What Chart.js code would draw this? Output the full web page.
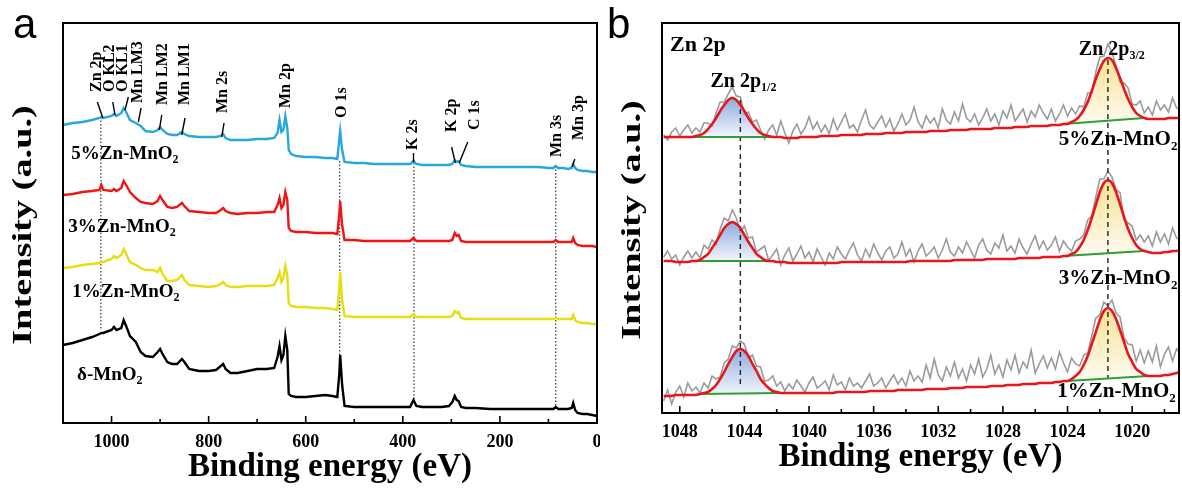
<!DOCTYPE html>
<html>
<head>
<meta charset="utf-8">
<script src="https://cdn.jsdelivr.net/npm/chart.js@4.4.1/dist/chart.umd.min.js"></script>
<style>
  html, body { margin: 0; padding: 0; background: #fff; }
  #wrap { position: relative; width: 1182px; height: 492px; overflow: hidden; }
  canvas { position: absolute; top: 0; }
  #survey { left: 0; }
  #zn { left: 600px; }
</style>
</head>
<body>
<div id="wrap">
  <canvas id="survey" width="600" height="492"></canvas>
  <canvas id="zn" width="582" height="492"></canvas>
</div>
<script>
// ---- panel a: survey spectra (binding energy in eV, stacked intensity in a.u.) ----
const energyA = [1100,1080,1060,1040,1025,1021,1017,1000,995,990,980,975,970,962,950,940,930,915,905,900,
  895,885,875,865,855,850,840,820,800,785,775,770,765,755,740,720,700,680,665,658,654,650,646,642,638,
  635,630,620,600,580,560,545,535,531,529,525,520,500,480,460,440,420,400,385,378,372,360,340,320,305,
  298,293,289,285,280,270,250,220,200,180,160,140,120,100,90,85,80,70,60,52,49,45,40,30,20,10,0];

const survey5 = [298,300,301,303,305,306,305,307,309,307,310,315,311,303,300,297,292,291,293,296,
  293,289,288,288,291,289,287,286,286,286,287,289,285,283,283,283,284,284,285,290,303,291,293,307,295,
  273,269,267,266,266,265,265,264,283,292,273,261,260,260,259,259,259,259,259,262,259,258,258,258,258,
  259,263,261,262,258,257,256,256,256,256,256,256,256,255,255,257,255,255,254,255,259,255,253,252,252,251,251];
const survey3 = [228,229,231,232,233,238,233,232,234,232,235,242,238,231,225,221,220,219,222,227,
  223,216,215,216,220,217,212,211,210,210,213,215,212,210,209,210,210,211,211,218,225,215,218,231,223,
  195,192,191,191,190,190,190,189,208,222,198,183,183,182,182,182,182,182,182,185,182,182,182,182,182,
  183,190,187,188,182,181,181,181,181,181,181,181,181,181,181,183,181,181,181,181,185,180,178,177,177,177,176];
const survey1 = [155,156,158,159,160,161,161,164,167,165,168,174,169,161,158,155,153,153,151,155,
  149,142,142,143,148,143,138,137,136,137,139,141,138,136,136,137,137,137,138,145,151,141,145,157,148,
  120,117,116,116,115,115,114,113,133,151,123,107,106,106,106,106,106,106,106,109,106,106,106,106,106,
  107,112,110,111,105,104,104,104,104,104,104,104,104,104,104,105,104,104,104,104,108,103,101,100,100,99,99];
const surveyPristine = [78,80,83,86,89,90,90,93,96,93,95,103,97,87,81,71,67,66,71,74,
  69,61,59,59,64,61,54,52,52,53,57,59,54,50,50,52,54,54,55,66,77,63,68,87,73,
  29,27,26,26,27,28,27,26,48,68,38,17,16,16,16,16,16,16,16,23,17,16,16,16,17,
  21,27,23,22,16,15,15,14,14,14,14,14,14,14,14,16,14,14,14,15,20,13,10,9,9,8,7];

const dropEnergyA = [1022, 530, 377, 85];
const dropTopA = [306, 262, 260, 257];
const dropBottomA = [93, 68, 23, 15];

const tickValuesA = [1000, 800, 600, 400, 200, 0];
const minorTicksA = [1100, 900, 700, 500, 300, 100];

// ---- panel b: Zn 2p high resolution ----
const energyB = [1049,1048.75,1048.5,1048.25,1048,1047.75,1047.5,1047.25,1047,1046.75,1046.5,1046.25,
  1046,1045.75,1045.5,1045.25,1045,1044.75,1044.5,1044.25,1044,1043.75,1043.5,1043.25,
  1043,1042.75,1042.5,1042.25,1042,1041.75,1041.5,1041.25,1041,1040.75,1040.5,1040.25,
  1040,1039.75,1039.5,1039.25,1039,1038.75,1038.5,1038.25,1038,1037.75,1037.5,1037.25,
  1037,1036.75,1036.5,1036.25,1036,1035.75,1035.5,1035.25,1035,1034.75,1034.5,1034.25,
  1034,1033.75,1033.5,1033.25,1033,1032.75,1032.5,1032.25,1032,1031.75,1031.5,1031.25,
  1031,1030.75,1030.5,1030.25,1030,1029.75,1029.5,1029.25,1029,1028.75,1028.5,1028.25,
  1028,1027.75,1027.5,1027.25,1027,1026.75,1026.5,1026.25,1026,1025.75,1025.5,1025.25,
  1025,1024.75,1024.5,1024.25,1024,1023.75,1023.5,1023.25,1023,1022.75,1022.5,1022.25,
  1022,1021.75,1021.5,1021.25,1021,1020.75,1020.5,1020.25,1020,1019.75,1019.5,1019.25,
  1019,1018.75,1018.5,1018.25,1018,1017.75,1017.5,1017.25,1017];

const raw5 = [278,273,281,285,277,283,288,280,285,281,290,290,287,300,311,311,319,326,317,316,
  299,301,291,293,283,274,283,288,278,292,280,270,282,289,279,285,296,284,291,281,
  288,279,294,283,291,299,285,288,281,293,303,288,284,291,297,286,294,282,289,299,
  288,293,306,291,285,297,290,295,285,304,293,289,301,292,309,295,291,299,288,295,
  304,292,299,288,302,295,308,292,298,304,291,302,296,308,300,294,304,292,299,308,
  297,305,299,307,306,320,320,341,356,357,369,361,347,331,330,325,309,308,312,300,
  306,298,312,303,308,301,315,305,303];
const fit5 = [276,276,276,276,276,276,276,276,277,278,280,284,289,295,302,308,313,315,313,308,
  302,295,289,284,280,278,277,276,276,276,275,275,275,275,276,276,276,276,276,277,
  277,277,277,277,278,278,278,278,278,278,279,279,279,279,279,280,280,280,280,280,
  281,281,281,281,281,281,282,282,282,282,282,283,283,283,283,283,284,284,284,284,
  284,284,285,285,285,285,285,286,286,286,286,287,287,287,287,287,288,288,288,289,
  289,291,293,297,303,311,322,334,344,352,355,353,345,335,324,314,306,300,297,295,
  294,294,294,294,294,295,295,295,295];

const raw3 = [156,162,154,158,148,156,162,155,161,155,168,164,173,169,184,195,192,203,195,181,
  187,175,176,161,164,167,153,158,164,148,158,165,152,159,167,155,161,151,164,156,
  148,160,154,166,159,154,163,170,158,152,164,156,169,160,153,162,166,155,159,171,
  157,164,151,162,169,157,161,166,155,163,174,161,157,166,160,171,163,155,168,174,
  163,159,170,165,178,162,167,160,174,165,159,169,177,164,172,163,168,176,162,172,
  166,162,172,174,178,193,197,216,234,234,242,236,224,220,193,190,187,173,178,171,
  177,167,181,171,179,169,185,175,173];
const fit3 = [152,152,152,151,151,151,151,152,152,153,156,159,165,171,178,185,189,191,189,185,
  178,171,165,159,156,153,152,152,151,151,151,150,150,150,150,150,150,150,150,150,
  150,150,150,150,151,151,151,151,151,151,151,151,151,151,151,151,151,151,151,151,
  151,152,152,152,152,152,152,152,152,152,152,152,153,153,153,153,153,153,153,153,
  154,154,154,154,154,154,154,154,155,155,155,155,155,155,156,156,156,156,156,157,
  157,159,161,166,173,183,195,208,221,230,233,230,221,209,196,184,175,168,164,162,
  161,160,160,160,161,161,162,162,163];

const raw1 = [12,23,9,21,27,16,30,22,26,20,30,25,37,34,36,50,54,67,65,72,
  69,55,58,47,46,32,33,37,27,31,22,29,24,33,27,21,30,36,25,28,
  32,23,38,28,31,23,35,27,30,25,32,39,27,30,35,25,32,38,29,35,
  27,42,32,37,31,48,35,54,38,32,46,37,51,35,44,32,48,39,54,36,
  44,58,39,48,36,53,43,58,40,51,45,63,40,49,57,45,55,44,61,50,
  41,55,49,47,58,60,77,95,98,111,107,113,100,96,75,69,68,52,63,50,
  62,51,67,46,59,66,52,64,59];
const fit1 = [17,17,17,18,18,18,18,18,18,19,20,21,24,28,34,41,49,56,62,64,
  62,57,49,42,34,29,25,22,21,20,20,20,20,20,20,20,20,20,20,20,
  20,20,20,21,21,21,21,21,21,21,21,22,22,22,22,22,22,22,23,23,
  23,23,23,23,23,24,24,24,24,24,24,25,25,25,25,26,26,26,26,26,
  26,27,27,27,27,28,28,28,28,29,29,29,29,30,30,30,30,31,31,32,
  32,34,37,41,48,57,69,81,93,102,105,102,94,83,71,59,51,44,41,38,
  37,37,37,37,38,38,39,40,41];

// background segments under the two Zn 2p peaks (start/end of each)
const bgEnergy5 = [1047.25, 1042.25, 1024.25, 1019.25];
const bg5 = [276, 276, 289, 295];
const bgEnergy3 = [1047.25, 1042.25, 1024.25, 1019.25];
const bg3 = [152, 152, 157, 162];
const bgEnergy1 = [1046.75, 1041.75, 1024, 1019];
const bg1 = [19, 20, 32, 37];

const dashEnergyB = [1044.25, 1021.5];
const dashTopB = [313, 353];
const dashBottomB = [26, 35];

const tickValuesB = [1048, 1044, 1040, 1036, 1032, 1028, 1024, 1020];
const minorTicksB = [1046, 1042, 1038, 1034, 1030, 1026, 1022, 1018];

// ---- text annotations ----
const peakLabelsA = [
  { text: "Zn 2p", ev: 1030.5, v: 331, lead: [1029.2, 321, 1018, 305] },
  { text: "O KL2", ev: 1003, v: 331, lead: [997.5, 321, 992.8, 308] },
  { text: "O KL1", ev: 975.7, v: 331, lead: [965.4, 326, 972.2, 313] },
  { text: "Mn LM3", ev: 946.4, v: 320, lead: [939.2, 315, 944.8, 301] },
  { text: "Mn LM2", ev: 893.3, v: 318, lead: [896.6, 308, 901.5, 293] },
  { text: "Mn LM1", ev: 848.6, v: 318, lead: [848.6, 305, 855.4, 288] },
  { text: "Mn 2s", ev: 771.4, v: 310, lead: [768.3, 300, 773, 286] },
  { text: "Mn 2p", ev: 641.2, v: 315 },
  { text: "O 1s", ev: 526.5, v: 305 },
  { text: "K 2s", ev: 378.4, v: 273, lead: [378, 270, 378, 261] },
  { text: "K 2p", ev: 299.5, v: 291, lead: [299.5, 276, 291.7, 260] },
  { text: "C 1s", ev: 252.1, v: 293, lead: [266.3, 281, 283.8, 260] },
  { text: "Mn 3s", ev: 82.8, v: 266 },
  { text: "Mn 3p", ev: 37.9, v: 283, lead: [45.7, 264, 51.3, 256] },
];
const sampleLabelsA = [
  { parts: [["5%Zn-MnO", 0], ["2", 1]], ev: 1083, v: 269 },
  { parts: [["3%Zn-MnO", 0], ["2", 1]], ev: 1089, v: 196 },
  { parts: [["1%Zn-MnO", 0], ["2", 1]], ev: 1081, v: 131 },
  { parts: [["δ-MnO", 0], ["2", 1]], ev: 1071, v: 48 },
];
const labelsB = [
  { parts: [["Zn 2p", 0]], ev: 1048.6, v: 368, size: 22, align: "left" },
  { parts: [["Zn 2p", 0], ["1/2", 1]], ev: 1046.1, v: 331, size: 20, align: "left" },
  { parts: [["Zn 2p", 0], ["3/2", 1]], ev: 1023.3, v: 363, size: 20, align: "left" },
  { parts: [["5%Zn-MnO", 0], ["2", 1]], ev: 1017.2, v: 273, size: 21, align: "right" },
  { parts: [["3%Zn-MnO", 0], ["2", 1]], ev: 1017.2, v: 134, size: 21, align: "right" },
  { parts: [["1%Zn-MnO", 0], ["2", 1]], ev: 1017.3, v: 21, size: 21, align: "right" },
];

const serif = '"Liberation Serif", "Times New Roman", serif';
const sans = '"Liberation Sans", Arial, sans-serif';
Chart.defaults.font.family = serif;
Chart.defaults.color = "#000";
Chart.defaults.elements.point.radius = 0;

const toPoints = (xs, ys) => xs.map((x, i) => ({ x, y: ys[i] }));

function richText(ctx, parts, x, y, size, align) {
  const main = `bold ${size}px ${serif}`;
  const sub = `bold ${Math.round(size * 0.62)}px ${serif}`;
  let w = 0;
  parts.forEach(([t, s]) => { ctx.font = s ? sub : main; w += ctx.measureText(t).width; });
  let cx = align === "right" ? x - w : align === "center" ? x - w / 2 : x;
  ctx.textAlign = "left";
  ctx.textBaseline = "middle";
  parts.forEach(([t, s]) => {
    ctx.font = s ? sub : main;
    ctx.fillText(t, cx, s ? y + size * 0.3 : y);
    cx += ctx.measureText(t).width;
  });
}

function axisTitles(ctx, area, yTitleX) {
  ctx.fillStyle = "#000";
  ctx.font = `bold 33px ${serif}`;
  ctx.textAlign = "center";
  ctx.textBaseline = "middle";
  ctx.fillText("Binding energy (eV)", (area.left + area.right) / 2, area.bottom + 44);
  ctx.save();
  ctx.translate(yTitleX, (area.top + area.bottom) / 2 + 2);
  ctx.rotate(-Math.PI / 2);
  ctx.scale(1.42, 1);
  ctx.font = `bold 27px ${serif}`;
  ctx.fillText("Intensity (a.u.)", 0, 0);
  ctx.restore();
}

function frameTicks(minor) {
  return {
    id: "frameTicks",
    afterDatasetsDraw(chart) {
      const { ctx, chartArea: a, scales: { x } } = chart;
      ctx.save();
      ctx.strokeStyle = "#000";
      ctx.lineWidth = 1.6;
      ctx.beginPath();
      x.ticks.forEach((t) => {
        const px = x.getPixelForValue(t.value);
        ctx.moveTo(px, a.bottom);
        ctx.lineTo(px, a.bottom - 7);
      });
      minor.forEach((v) => {
        const px = x.getPixelForValue(v);
        ctx.moveTo(px, a.bottom);
        ctx.lineTo(px, a.bottom - 4);
      });
      ctx.stroke();
      ctx.lineWidth = 2;
      ctx.strokeRect(a.left, a.top, a.right - a.left, a.bottom - a.top);
      ctx.restore();
    },
  };
}

function baseOptions(xMin, xMax, ticks, xHeight, yMax, yWidth) {
  return {
    responsive: false,
    animation: false,
    devicePixelRatio: 1,
    layout: { padding: { top: 23, right: 3, left: 0, bottom: 0 } },
    plugins: { legend: { display: false }, tooltip: { enabled: false } },
    scales: {
      x: {
        type: "linear",
        min: xMin,
        max: xMax,
        reverse: true,
        afterBuildTicks: (s) => { s.ticks = ticks.map((v) => ({ value: v })); },
        afterFit: (s) => {
          s.height = xHeight;
          s.paddingLeft = 0;
          s.paddingRight = 0;
        },
        grid: { display: false, drawTicks: false },
        border: { display: false },
        ticks: {
          font: { size: 18, weight: "bold" },
          padding: 9,
          maxRotation: 0,
          autoSkip: false,
          callback: (v) => String(v),
        },
      },
      y: {
        min: 0,
        max: yMax,
        afterFit: (s) => { s.width = yWidth; },
        grid: { display: false, drawTicks: false },
        border: { display: false },
        ticks: { display: false },
      },
    },
  };
}

// ---- chart a ----
const surveySeries = [survey5, survey3, survey1, surveyPristine];
const surveyColors = ["#2aa6de", "#f01414", "#e6dd12", "#000000"];
const datasetsA = surveySeries.map((s, i) => ({
  data: toPoints(energyA, s),
  borderColor: surveyColors[i],
  borderWidth: 2.4,
  tension: 0,
  order: 1,
}));
dropEnergyA.forEach((e, i) => {
  datasetsA.push({
    data: [{ x: e, y: dropTopA[i] }, { x: e, y: dropBottomA[i] }],
    borderColor: "#222",
    borderWidth: 1.1,
    borderDash: [1.5, 2],
    order: 5,
  });
});

const surveyOverlay = {
  id: "surveyOverlay",
  afterDraw(chart) {
    const { ctx, chartArea: area, scales: { x, y } } = chart;
    ctx.save();
    ctx.fillStyle = "#000";
    ctx.strokeStyle = "#000";
    ctx.font = `42px ${sans}`;
    ctx.textAlign = "left";
    ctx.textBaseline = "alphabetic";
    ctx.fillText("a", 13, 38);
    axisTitles(ctx, area, 24);

    ctx.font = `bold 16px ${serif}`;
    ctx.lineWidth = 1.4;
    peakLabelsA.forEach((p) => {
      ctx.save();
      ctx.translate(x.getPixelForValue(p.ev), y.getPixelForValue(p.v));
      ctx.rotate(-Math.PI / 2);
      ctx.textAlign = "left";
      ctx.textBaseline = "middle";
      ctx.fillText(p.text, 0, 0);
      ctx.restore();
      if (p.lead) {
        ctx.beginPath();
        ctx.moveTo(x.getPixelForValue(p.lead[0]), y.getPixelForValue(p.lead[1]));
        ctx.lineTo(x.getPixelForValue(p.lead[2]), y.getPixelForValue(p.lead[3]));
        ctx.stroke();
      }
    });
    sampleLabelsA.forEach((l) => {
      richText(ctx, l.parts, x.getPixelForValue(l.ev), y.getPixelForValue(l.v), 19, "left");
    });
    ctx.restore();
  },
};

new Chart(document.getElementById("survey"), {
  type: "line",
  data: { datasets: datasetsA },
  options: baseOptions(0, 1100, tickValuesA, 69, 400, 63),
  plugins: [frameTicks(minorTicksA), surveyOverlay],
});

// ---- chart b ----
function peakFill(chart, top, base, rgb) {
  const ys = chart.scales.y;
  const flat = `rgba(${rgb},0.35)`;
  if (!ys || !chart.chartArea) return flat;
  const y0 = ys.getPixelForValue(top);
  const y1 = ys.getPixelForValue(base);
  if (!Number.isFinite(y0) || !Number.isFinite(y1) || y0 === y1) return flat;
  const g = chart.ctx.createLinearGradient(0, y0, 0, y1);
  g.addColorStop(0, `rgba(${rgb},0.7)`);
  g.addColorStop(1, `rgba(${rgb},0.08)`);
  return g;
}

const spectraB = [
  { raw: raw5, fit: fit5, bgE: bgEnergy5, bg: bg5 },
  { raw: raw3, fit: fit3, bgE: bgEnergy3, bg: bg3 },
  { raw: raw1, fit: fit1, bgE: bgEnergy1, bg: bg1 },
];
const fillRgb = ["95,135,210", "245,212,100"];
const datasetsB = [];
spectraB.forEach((s) => {
  datasetsB.push({ data: toPoints(energyB, s.raw), borderColor: "#9b9b9b", borderWidth: 1.6, tension: 0, order: 4 });
  [0, 2].forEach((k, j) => {
    const e0 = s.bgE[k];
    const e1 = s.bgE[k + 1];
    const baseIndex = datasetsB.length;
    datasetsB.push({
      data: [{ x: e0, y: s.bg[k] }, { x: e1, y: s.bg[k + 1] }],
      borderColor: "#2f9e33",
      borderWidth: 2.2,
      order: 2,
    });
    const pts = toPoints(energyB, s.fit).filter((p) => p.x <= e0 && p.x >= e1);
    const top = Math.max(...pts.map((p) => p.y));
    datasetsB.push({
      data: pts,
      borderWidth: 0,
      tension: 0.3,
      fill: baseIndex,
      backgroundColor: (c) => peakFill(c.chart, top, Math.min(s.bg[k], s.bg[k + 1]), fillRgb[j]),
      order: 6,
    });
  });
  datasetsB.push({ data: toPoints(energyB, s.fit), borderColor: "#e8161c", borderWidth: 2.6, tension: 0.3, order: 1 });
});
dashEnergyB.forEach((e, i) => {
  datasetsB.push({
    data: [{ x: e, y: dashTopB[i] }, { x: e, y: dashBottomB[i] }],
    borderColor: "#222",
    borderWidth: 1.4,
    borderDash: [5, 4],
    order: 3,
  });
});

const znOverlay = {
  id: "znOverlay",
  afterDraw(chart) {
    const { ctx, chartArea: area, scales: { x, y } } = chart;
    ctx.save();
    ctx.fillStyle = "#000";
    ctx.font = `42px ${sans}`;
    ctx.textAlign = "left";
    ctx.textBaseline = "alphabetic";
    ctx.fillText("b", 7, 38);
    axisTitles(ctx, area, 33);
    labelsB.forEach((l) => {
      richText(ctx, l.parts, x.getPixelForValue(l.ev), y.getPixelForValue(l.v), l.size, l.align);
    });
    ctx.restore();
  },
};

new Chart(document.getElementById("zn"), {
  type: "line",
  data: { datasets: datasetsB },
  options: baseOptions(1017.1, 1049.1, tickValuesB, 79, 390, 62),
  plugins: [frameTicks(minorTicksB), znOverlay],
});
</script>
</body>
</html>
